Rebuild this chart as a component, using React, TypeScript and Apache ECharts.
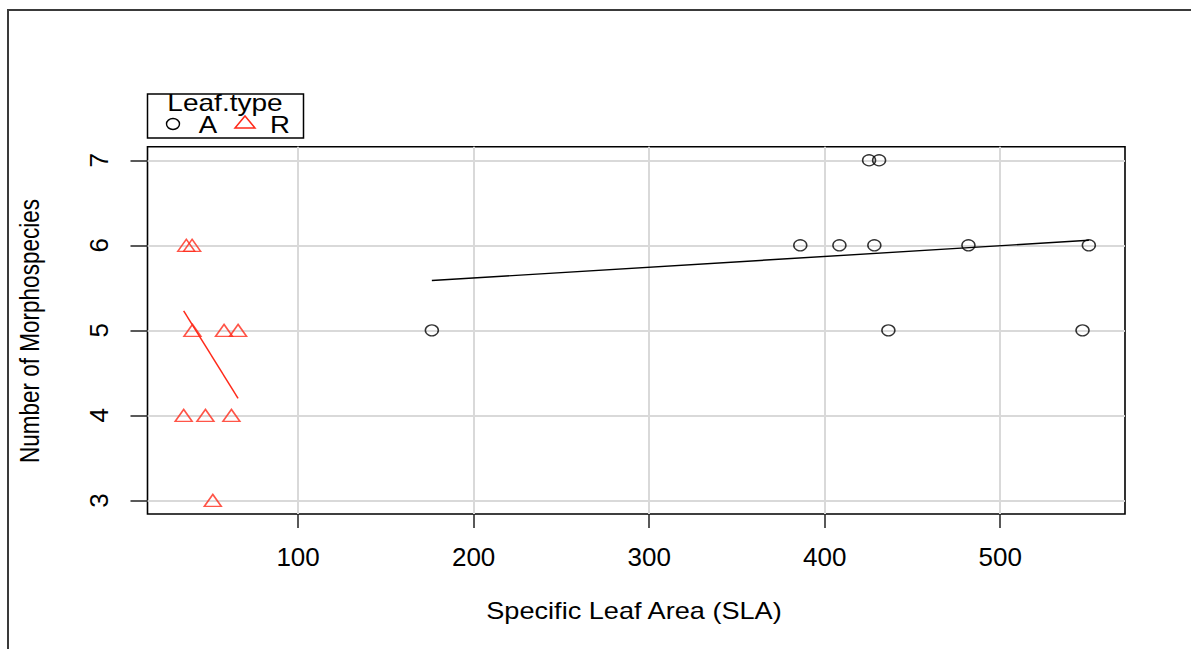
import React, { useEffect, useRef } from "react";
import * as echarts from "echarts";

// Tick positions
const xTicks = [100, 200, 300, 400, 500];
const yTicks = [3, 4, 5, 6, 7];

// Leaf.type A (black circles)
const aSLA = [176.2, 386.1, 408.4, 425.3, 428.3, 431.0, 436.3, 481.9, 546.9, 550.5];
const aMorpho = [5, 6, 6, 7, 6, 7, 5, 6, 5, 6];

// Leaf.type R (red triangles)
const rSLA = [36.3, 39.6, 39.8, 57.8, 65.8, 34.8, 47.2, 62.0, 51.4];
const rMorpho = [6, 6, 5, 5, 5, 4, 4, 4, 3];

// Fitted lines (end points)
const aFitX = [176.2, 550.5];
const aFitY = [5.586, 6.059];
const rFitX = [34.8, 65.8];
const rFitY = [5.23, 4.2];

const FONT = "'Liberation Sans', Arial, Helvetica, sans-serif";
const RED = "#ff2a1a";

export default function App() {
  const ref = useRef<HTMLDivElement>(null);

  useEffect(() => {
    if (!ref.current) return;
    const chart = echarts.init(ref.current, null, { renderer: "svg" });

    const pairs = (xs: number[], ys: number[]) => xs.map((x, i) => [x, ys[i]]);

    const option: any = {
      animation: false,
      backgroundColor: "#fff",
      textStyle: { fontFamily: FONT },
      grid: {
        left: 147.5,
        right: 66,
        top: 146.7,
        bottom: 135,
        show: true,
        borderColor: "#000",
        borderWidth: 1.6,
        backgroundColor: "transparent",
      },
      xAxis: {
        type: "value",
        min: 14.2,
        max: 571.1,
        axisLine: { show: false },
        axisTick: {
          show: true,
          inside: false,
          length: 14,
          customValues: xTicks,
          lineStyle: { color: "#222", width: 1.5 },
        },
        axisLabel: {
          show: true,
          customValues: xTicks,
          margin: 30,
          fontSize: 26,
          color: "#000",
          fontFamily: FONT,
        },
        splitLine: { show: true, lineStyle: { color: "#d9d9d9", width: 2 } },
      },
      yAxis: {
        type: "value",
        min: 2.84,
        max: 7.16,
        axisLine: { show: false },
        axisTick: {
          show: true,
          inside: false,
          length: 17,
          customValues: yTicks,
          lineStyle: { color: "#222", width: 1.5 },
        },
        axisLabel: {
          show: true,
          customValues: yTicks,
          rotate: 90,
          margin: 36,
          fontSize: 26,
          color: "#000",
          fontFamily: FONT,
        },
        splitLine: { show: true, lineStyle: { color: "#d9d9d9", width: 2 } },
      },
      series: [
        {
          name: "A",
          type: "scatter",
          symbol: "circle",
          symbolSize: [13, 11],
          data: pairs(aSLA, aMorpho),
          itemStyle: { color: "rgba(0,0,0,0)", borderColor: "#000", borderWidth: 1.4 },
          z: 3,
        },
        {
          name: "R",
          type: "scatter",
          symbol: "triangle",
          symbolSize: [17, 12],
          data: pairs(rSLA, rMorpho),
          itemStyle: { color: "rgba(0,0,0,0)", borderColor: RED, borderWidth: 1.5 },
          z: 3,
        },
        {
          name: "A fit",
          type: "line",
          data: pairs(aFitX, aFitY),
          showSymbol: false,
          symbol: "none",
          lineStyle: { color: "#000", width: 1.4 },
          z: 4,
        },
        {
          name: "R fit",
          type: "line",
          data: pairs(rFitX, rFitY),
          showSymbol: false,
          symbol: "none",
          lineStyle: { color: RED, width: 1.5 },
          z: 4,
        },
      ],
      graphic: [
        {
          type: "rect",
          shape: { x: 8, y: 10, width: 1300, height: 800 },
          style: { fill: "none", stroke: "#3a3a3a", lineWidth: 2 },
          z: 10,
        },
        {
          type: "text",
          x: 634,
          y: 611,
          scaleX: 1.18,
          style: {
            text: "Specific Leaf Area (SLA)",
            font: `23px ${FONT}`,
            fill: "#000",
            align: "center",
            verticalAlign: "middle",
          },
        },
        {
          type: "text",
          x: 30,
          y: 331,
          rotation: Math.PI / 2,
          scaleY: 1.2,
          style: {
            text: "Number of Morphospecies",
            font: `22.5px ${FONT}`,
            fill: "#000",
            align: "center",
            verticalAlign: "middle",
          },
        },
        {
          type: "group",
          children: [
            {
              type: "rect",
              shape: { x: 147.5, y: 94, width: 156, height: 44 },
              style: { fill: "#fff", stroke: "#000", lineWidth: 1.5 },
            },
            {
              type: "text",
              x: 225,
              y: 103,
              scaleX: 1.22,
              style: {
                text: "Leaf.type",
                font: `23px ${FONT}`,
                fill: "#000",
                align: "center",
                verticalAlign: "middle",
              },
            },
            {
              type: "ellipse",
              shape: { cx: 173, cy: 124, rx: 6.5, ry: 5.5 },
              style: { fill: "none", stroke: "#000", lineWidth: 1.4 },
            },
            {
              type: "text",
              x: 208,
              y: 125,
              scaleX: 1.15,
              style: {
                text: "A",
                font: `24px ${FONT}`,
                fill: "#000",
                align: "center",
                verticalAlign: "middle",
              },
            },
            {
              type: "polygon",
              shape: { points: [[235, 128], [255, 128], [245, 116]] },
              style: { fill: "none", stroke: RED, lineWidth: 1.5 },
            },
            {
              type: "text",
              x: 280,
              y: 125,
              scaleX: 1.15,
              style: {
                text: "R",
                font: `24px ${FONT}`,
                fill: "#000",
                align: "center",
                verticalAlign: "middle",
              },
            },
          ],
        },
      ],
    };

    chart.setOption(option);
    return () => chart.dispose();
  }, []);

  return (
    <div
      ref={ref}
      style={{ position: "fixed", left: 0, top: 0, width: 1191, height: 649 }}
    />
  );
}
